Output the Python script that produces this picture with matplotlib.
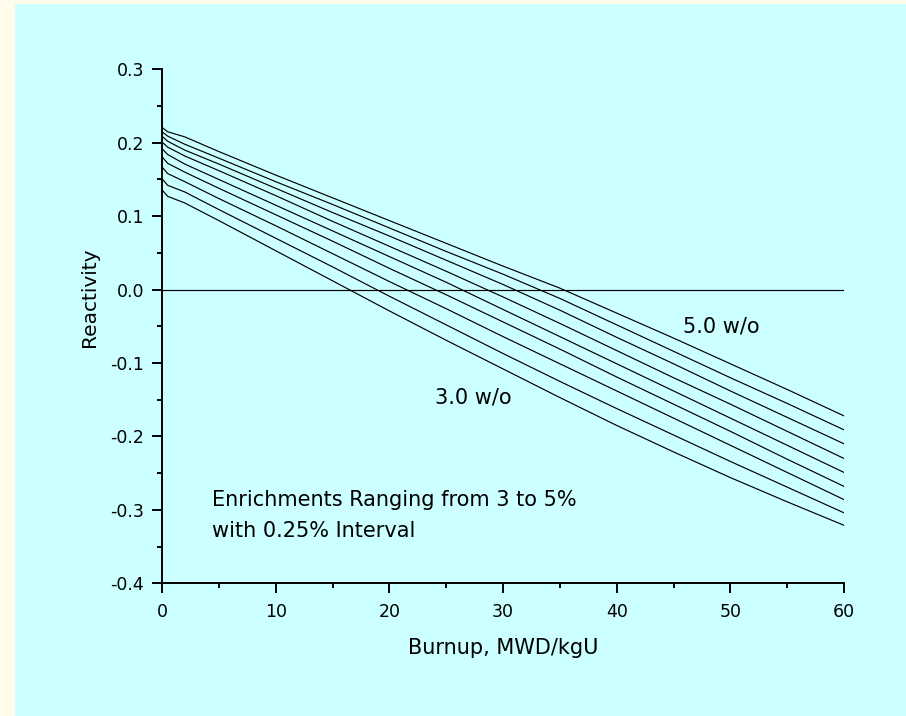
import numpy as np
import matplotlib
matplotlib.use('Agg')
import matplotlib.pyplot as plt
import matplotlib.ticker as mticker
from matplotlib.patches import Rectangle

plt.rcParams['font.family'] = ['DejaVu Sans']
plt.rcParams['axes.unicode_minus'] = False

# burnup grid, MWD/kgU
burnup = [0, 0.5, 2, 5, 10, 15, 20, 25, 30, 35, 40, 45, 50, 55, 60]

# reactivity for each enrichment (w/o)
enrichments = [3.0, 3.25, 3.5, 3.75, 4.0, 4.25, 4.5, 4.75, 5.0]
rho_300 = [0.136, 0.127, 0.118, 0.094, 0.053, 0.012, -0.029, -0.069, -0.108, -0.147, -0.185, -0.221, -0.256, -0.289, -0.321]
rho_325 = [0.151, 0.142, 0.133, 0.109, 0.070, 0.031, -0.009, -0.048, -0.087, -0.125, -0.162, -0.198, -0.234, -0.269, -0.304]
rho_350 = [0.167, 0.158, 0.147, 0.124, 0.087, 0.049, 0.011, -0.026, -0.064, -0.101, -0.138, -0.175, -0.212, -0.249, -0.286]
rho_375 = [0.181, 0.172, 0.160, 0.138, 0.102, 0.066, 0.029, -0.007, -0.044, -0.081, -0.119, -0.156, -0.193, -0.231, -0.268]
rho_400 = [0.192, 0.184, 0.171, 0.150, 0.115, 0.080, 0.045, 0.010, -0.027, -0.064, -0.101, -0.138, -0.175, -0.212, -0.249]
rho_425 = [0.201, 0.194, 0.182, 0.162, 0.128, 0.093, 0.059, 0.025, -0.010, -0.046, -0.083, -0.120, -0.156, -0.193, -0.230]
rho_450 = [0.209, 0.202, 0.190, 0.171, 0.138, 0.105, 0.073, 0.040, 0.007, -0.028, -0.065, -0.101, -0.138, -0.174, -0.210]
rho_475 = [0.215, 0.209, 0.198, 0.179, 0.147, 0.116, 0.084, 0.052, 0.021, -0.012, -0.048, -0.084, -0.120, -0.155, -0.191]
rho_500 = [0.221, 0.215, 0.208, 0.188, 0.156, 0.125, 0.094, 0.063, 0.032, 0.002, -0.032, -0.066, -0.101, -0.136, -0.172]
curves = [rho_300, rho_325, rho_350, rho_375, rho_400, rho_425, rho_450, rho_475, rho_500]

fig = plt.figure(figsize=(9.06, 7.16), dpi=100)
fig.patch.set_facecolor('#FFFDE9')
fig.patches.append(Rectangle((15/906, 0), 1, 1 - 4/716, transform=fig.transFigure,
                             facecolor='#CCFFFF', edgecolor='none', zorder=-5))

ax = fig.add_axes([0.1788, 0.1853, 0.7528, 0.7179])
ax.patch.set_alpha(0)

for rho in curves:
    ax.plot(burnup, rho, color='black', lw=0.85)
ax.plot([0, 60], [0, 0], color='black', lw=0.85)

ax.set_xlim(0, 60)
ax.set_ylim(-0.4, 0.3)
ax.spines['top'].set_visible(False)
ax.spines['right'].set_visible(False)
ax.spines['left'].set_linewidth(1.4)
ax.spines['bottom'].set_linewidth(1.4)

ax.xaxis.set_major_locator(mticker.MultipleLocator(10))
ax.xaxis.set_minor_locator(mticker.MultipleLocator(5))
ax.yaxis.set_major_locator(mticker.MultipleLocator(0.1))
ax.yaxis.set_minor_locator(mticker.MultipleLocator(0.05))
ax.yaxis.set_major_formatter(mticker.FormatStrFormatter('%.1f'))
ax.tick_params(which='major', length=7.2, width=1.4, labelsize=12.5)
ax.tick_params(which='minor', length=3.6, width=1.4)
ax.tick_params(axis='x', which='major', pad=7)
ax.tick_params(axis='y', which='major', pad=5.5)

ax.set_xlabel('Burnup, MWD/kgU', fontsize=15)
ax.set_ylabel('Reactivity', fontsize=14.5)
ax.xaxis.set_label_coords(0.5, -0.106)
ax.yaxis.set_label_coords(-0.093, 0.557)

ax.text(45.8, -0.058, '5.0 w/o', fontsize=15, va='baseline', ha='left')
ax.text(24.0, -0.155, '3.0 w/o', fontsize=15, va='baseline', ha='left')
ax.text(4.4, -0.2948, 'Enrichments Ranging from 3 to 5%', fontsize=15, va='baseline', ha='left')
ax.text(4.4, -0.3375, 'with 0.25% Interval', fontsize=15, va='baseline', ha='left')

fig.savefig('out.png', dpi=100, facecolor=fig.get_facecolor())
